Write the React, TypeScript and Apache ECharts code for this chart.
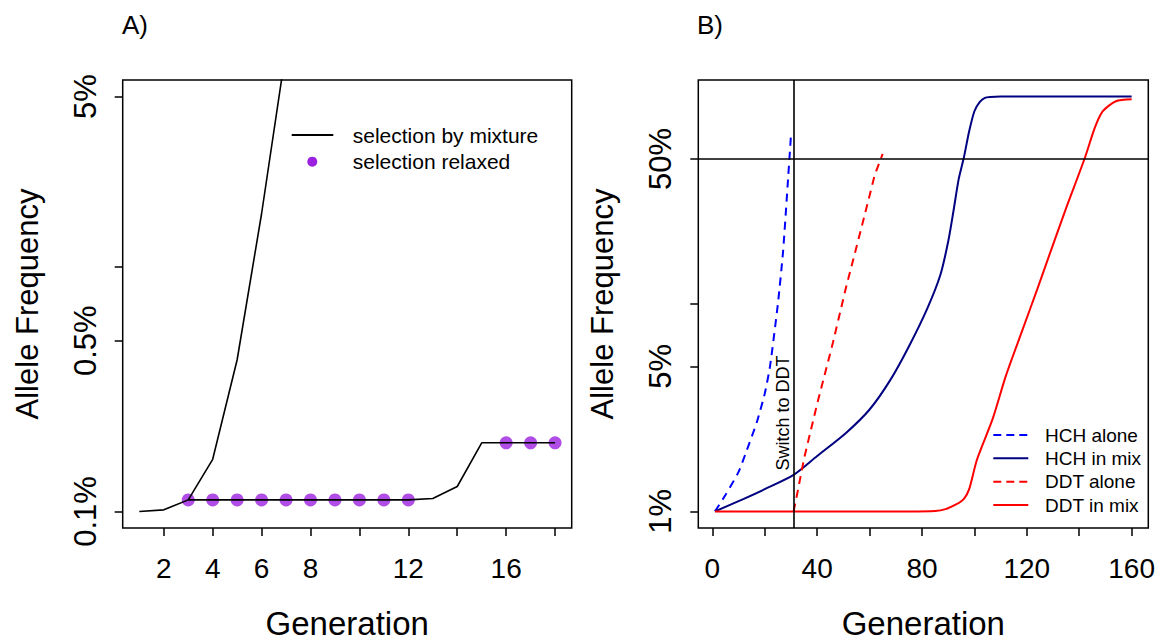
import React, { useEffect, useRef } from "react";
import * as echarts from "echarts";

// ---------- Panel A data ----------
const mixtureGen = [1, 2, 3, 4, 5, 6, 7];
const mixtureFreq = [0.1, 0.1015, 0.1115, 0.1635, 0.418, 1.66, 7.8];
const relaxedGen = [3, 4, 5, 6, 7, 8, 9, 10, 11, 12, 13, 14, 15, 16, 17, 18];
const relaxedFreq = [0.1115, 0.1115, 0.1115, 0.1115, 0.1115, 0.1115, 0.1115, 0.1115, 0.1115, 0.1115, 0.113, 0.1265, 0.191, 0.191, 0.191, 0.191];
const dotGen = [3, 4, 5, 6, 7, 8, 9, 10, 11, 12, 16, 17, 18];
const dotFreq = [0.1115, 0.1115, 0.1115, 0.1115, 0.1115, 0.1115, 0.1115, 0.1115, 0.1115, 0.1115, 0.191, 0.191, 0.191];
const xTicksA = [2, 4, 6, 8, 10, 12, 14, 16, 18];
const xLabelsA = [2, 4, 6, 8, 12, 16];
const yTicksA = [0.1, 0.5, 1, 5];
const yLabelsA = [0.1, 0.5, 5];

// ---------- Panel B data ----------
const hchAloneGen = [1, 5, 10, 13, 17, 20, 22, 25, 27, 29, 30];
const hchAloneFreq = [1.0, 1.2, 1.55, 1.95, 2.7, 3.7, 5.0, 10, 18, 42, 65];
const hchMixGen = [1, 12, 20, 31, 40, 51, 60, 68, 75, 82, 87, 90, 92, 94, 96, 98, 100, 102, 104, 106, 110, 160];
const hchMixFreq = [1.0, 1.15, 1.28, 1.5, 1.85, 2.39, 3.1, 4.32, 6.24, 9.5, 13.8, 20, 28, 40, 51, 68, 85, 94, 98.5, 99.5, 100, 100];
const ddtAloneGen = [31, 32, 35, 40, 46, 51, 57, 62, 65];
const ddtAloneFreq = [1.0, 1.15, 1.8, 3.3, 6.5, 12, 23.6, 42, 53];
const ddtMixGen = [1, 30, 31, 75, 85, 89, 93, 96, 98, 101, 107, 112, 118, 124, 129, 135, 142, 146, 149, 154, 160];
const ddtMixFreq = [1, 1, 1, 1, 1.005, 1.026, 1.08, 1.15, 1.28, 1.78, 2.8, 4.5, 7.3, 11.8, 17.8, 29, 50, 71, 85, 95, 97];
const switchGen = 31;
const refFreq = 50;
const xTicksB = [0, 20, 40, 60, 80, 100, 120, 140, 160];
const xLabelsB = [0, 40, 80, 120, 160];
const yTicksB = [1, 5, 10, 50];
const yLabelsB = [1, 5, 50];

const FONT = "'Liberation Sans', Arial, sans-serif";
const PURPLE = "#9C20E0";
const pairs = (xs: number[], ys: number[]) => xs.map((x, i) => [x, ys[i]]);

function xAxisFor(gridIndex: number, min: number, max: number, ticks: number[], labels: number[]) {
  return {
    type: "value",
    gridIndex,
    min,
    max,
    axisLine: { show: false, onZero: false },
    splitLine: { show: false },
    axisTick: { show: true, inside: false, length: 8, customValues: ticks, lineStyle: { color: "#000", width: 1.5 } },
    axisLabel: { customValues: labels, margin: 26, fontSize: 28, color: "#000", fontFamily: FONT },
    name: "Generation",
    nameLocation: "middle",
    nameGap: 80,
    nameTextStyle: { fontSize: 33, lineHeight: 30, color: "#000", fontFamily: FONT },
  };
}

function yAxisFor(gridIndex: number, min: number, max: number, ticks: number[], labels: number[]) {
  return {
    type: "log",
    logBase: 10,
    gridIndex,
    min,
    max,
    axisLine: { show: false, onZero: false },
    splitLine: { show: false },
    axisTick: { show: true, inside: false, length: 8, customValues: ticks, lineStyle: { color: "#000", width: 1.5 } },
    axisLabel: {
      customValues: labels,
      rotate: 90,
      margin: 22,
      fontSize: 31,
      color: "#000",
      fontFamily: FONT,
      formatter: (v: number) => `${v}%`,
    },
    name: "Allele Frequency",
    nameLocation: "middle",
    nameRotate: 90,
    nameGap: 80,
    nameTextStyle: { fontSize: 31, color: "#000", fontFamily: FONT },
  };
}

export default function App() {
  const ref = useRef<HTMLDivElement>(null);
  useEffect(() => {
    document.body.style.margin = "0";
    const chart = echarts.init(ref.current!, null, { renderer: "svg" });
    const txt = (text: string, x: number, y: number, size: number, extra: any = {}) => ({
      type: "text",
      x,
      y,
      ...extra,
      style: { text, fontSize: size, fontFamily: FONT, fill: "#000", textAlign: "left", textVerticalAlign: "middle", ...(extra.style || {}) },
    });
    const legLine = (x1: number, x2: number, y: number, color: string, dashed: boolean) => ({
      type: "line",
      shape: { x1, y1: y, x2, y2: y },
      style: { stroke: color, lineWidth: 2, lineDash: dashed ? [8, 5] : null },
    });
    const gridBase = {
      top: 80,
      height: 448,
      show: true,
      borderColor: "#000",
      borderWidth: 1.5,
      backgroundColor: "transparent",
      containLabel: false,
      outerBoundsMode: "none",
    };
    chart.setOption({
      animation: false,
      backgroundColor: "#fff",
      grid: [
        { ...gridBase, left: 122.7, width: 449 },
        { ...gridBase, left: 698.3, width: 450 },
      ],
      xAxis: [xAxisFor(0, 0.32, 18.68, xTicksA, xLabelsA), xAxisFor(1, -5.36, 166.36, xTicksB, xLabelsB)],
      yAxis: [yAxisFor(0, 0.08553, 5.846, yTicksA, yLabelsA), yAxisFor(1, 0.8318, 120.23, yTicksB, yLabelsB)],
      series: [
        {
          name: "selection by mixture",
          type: "line",
          xAxisIndex: 0,
          yAxisIndex: 0,
          data: pairs(mixtureGen, mixtureFreq),
          symbol: "none",
          lineStyle: { color: "#000", width: 1.6 },
          clip: true,
        },
        {
          name: "relaxed line",
          type: "line",
          xAxisIndex: 0,
          yAxisIndex: 0,
          data: pairs(relaxedGen, relaxedFreq),
          symbol: "none",
          lineStyle: { color: "#000", width: 1.6 },
        },
        {
          name: "selection relaxed",
          type: "scatter",
          xAxisIndex: 0,
          yAxisIndex: 0,
          data: pairs(dotGen, dotFreq),
          symbol: "circle",
          symbolSize: 13,
          itemStyle: { color: PURPLE },
        },
        {
          name: "HCH alone",
          type: "line",
          xAxisIndex: 1,
          yAxisIndex: 1,
          data: pairs(hchAloneGen, hchAloneFreq),
          symbol: "none",
          smooth: 0.2,
          lineStyle: { color: "#0000FF", width: 2, type: [8, 6] },
        },
        {
          name: "HCH in mix",
          type: "line",
          xAxisIndex: 1,
          yAxisIndex: 1,
          data: pairs(hchMixGen, hchMixFreq),
          symbol: "none",
          smooth: 0.25,
          lineStyle: { color: "#000080", width: 2 },
        },
        {
          name: "DDT alone",
          type: "line",
          xAxisIndex: 1,
          yAxisIndex: 1,
          data: pairs(ddtAloneGen, ddtAloneFreq),
          symbol: "none",
          lineStyle: { color: "#FF0000", width: 2, type: [8, 6] },
        },
        {
          name: "DDT in mix",
          type: "line",
          xAxisIndex: 1,
          yAxisIndex: 1,
          data: pairs(ddtMixGen, ddtMixFreq),
          symbol: "none",
          smooth: 0.25,
          lineStyle: { color: "#FF0000", width: 2 },
          markLine: {
            silent: true,
            symbol: "none",
            label: { show: false },
            lineStyle: { color: "#000", width: 1.6, type: "solid" },
            data: [{ xAxis: switchGen }, { yAxis: refFreq }],
          },
        },
      ],
      graphic: [
        txt("A)", 122, 25, 26),
        txt("B)", 697, 25, 26),
        legLine(291.7, 333.3, 135, "#000", false),
        txt("selection by mixture", 352.7, 135, 21),
        { type: "circle", shape: { cx: 312.3, cy: 161.7, r: 5 }, style: { fill: PURPLE } },
        txt("selection relaxed", 352.7, 161.7, 21),
        legLine(993.3, 1028.3, 435, "#0000FF", true),
        txt("HCH alone", 1045, 435, 19),
        legLine(993.3, 1028.3, 458.3, "#000080", false),
        txt("HCH in mix", 1045, 458.3, 19),
        legLine(993.3, 1028.3, 481.7, "#FF0000", true),
        txt("DDT alone", 1045, 481.7, 19),
        legLine(993.3, 1028.3, 505, "#FF0000", false),
        txt("DDT in mix", 1045, 505, 19),
        txt("Switch to DDT", 783, 413, 18, { rotation: Math.PI / 2, style: { textAlign: "center" } }),
      ],
    });
    return () => chart.dispose();
  }, []);
  return <div ref={ref} style={{ width: 1173, height: 640 }} />;
}
